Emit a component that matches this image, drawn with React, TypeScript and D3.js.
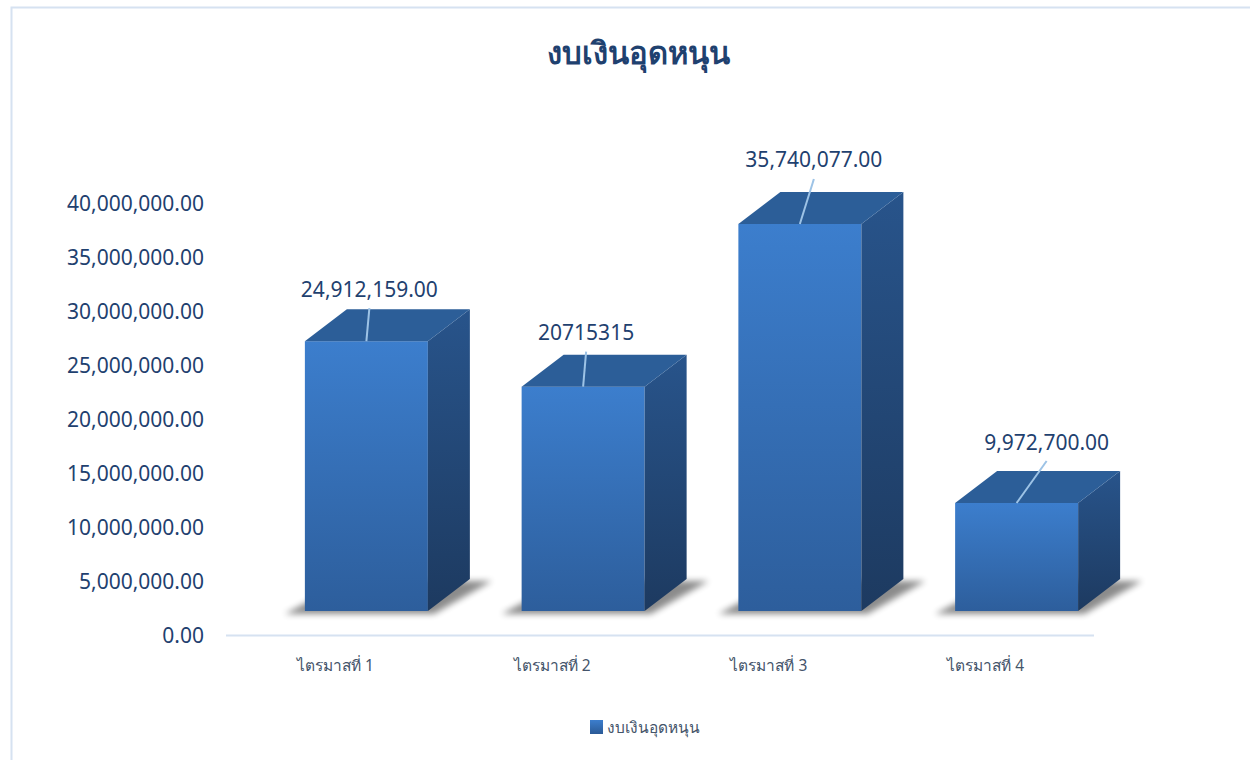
import React from "react";
import * as d3 from "d3";

const title = "งบเงินอุดหนุน";
const seriesName = "งบเงินอุดหนุน";
const categories = ["ไตรมาสที่ 1", "ไตรมาสที่ 2", "ไตรมาสที่ 3", "ไตรมาสที่ 4"];
const values = [24912159, 20715315, 35740077, 9972700];
const labelFormats = ["fixed2", "raw", "fixed2", "fixed2"];
const yTicks = [0, 5000000, 10000000, 15000000, 20000000, 25000000, 30000000, 35000000, 40000000];

// layout (not data)
const W = 1250;
const H = 760;
const barW = 123;
const depthX = 42;
const depthY = -32;
const base = 611;
const labelShift = [
  [3, -20],
  [3, -22],
  [14, -32],
  [30, -29],
];

const fmt2 = d3.format(",.2f");

export default function App() {
  const x = d3.scalePoint<string>().domain(categories).range([258, 1125]).padding(0.5);
  const yBar = d3.scaleLinear().domain([0, 40000000]).range([base, base - 433.2]);
  const yAxis = d3.scaleLinear().domain([0, 40000000]).range([635, 203]);

  const textColor = "#1f416f";

  return (
    <svg
      width={W}
      height={H}
      style={{ position: "absolute", left: 0, top: 0, background: "#fff" }}
      xmlns="http://www.w3.org/2000/svg"
    >
      <defs>
        <linearGradient id="front" x1="0" y1="0" x2="0" y2="1">
          <stop offset="0" stopColor="#3c7ecd" />
          <stop offset="1" stopColor="#2d5e9c" />
        </linearGradient>
        <linearGradient id="side" x1="0" y1="0" x2="0" y2="1">
          <stop offset="0" stopColor="#28548b" />
          <stop offset="1" stopColor="#1d3a60" />
        </linearGradient>
        <linearGradient id="legendG" x1="0" y1="0" x2="0" y2="1">
          <stop offset="0" stopColor="#3c7ecd" />
          <stop offset="1" stopColor="#2b5a96" />
        </linearGradient>
        <filter id="blur" x="-20%" y="-50%" width="140%" height="200%">
          <feGaussianBlur stdDeviation="3" />
        </filter>
      </defs>

      {/* chart area border */}
      <rect x={11.5} y={7.5} width={W + 20} height={H + 20} fill="none" stroke="#d6e2f1" strokeWidth={2} />

      {/* title */}
      <text
        x={638}
        y={64}
        textAnchor="middle"
        fontFamily="'Noto Sans', 'DejaVu Sans', sans-serif"
        fontWeight="bold"
        fontSize={31}
        fill={textColor}
      >
        {title}
      </text>

      {/* y axis labels */}
      {yTicks.map((t) => (
        <text
          key={t}
          x={204}
          y={yAxis(t)}
          dy="0.36em"
          textAnchor="end"
          fontFamily="'Noto Sans', sans-serif"
          fontSize={21}
          fill={textColor}
        >
          {fmt2(t)}
        </text>
      ))}

      {/* category axis line */}
      <line x1={226} x2={1094} y1={635.5} y2={635.5} stroke="#d6e2f1" strokeWidth={2} />

      {/* bars */}
      {categories.map((c, i) => {
        const cx = x(c)!;
        const x0 = cx - barW / 2;
        const x1 = cx + barW / 2;
        const yt = yBar(values[i]);
        const shadow = [
          [x0 - 20, base + 3],
          [x1 + 6, base + 3],
          [x1 + depthX + 22, base + depthY + 2],
          [x0 + depthX, base + depthY + 2],
        ];
        const top = [
          [x0, yt],
          [x1, yt],
          [x1 + depthX, yt + depthY],
          [x0 + depthX, yt + depthY],
        ];
        const side = [
          [x1, yt],
          [x1 + depthX, yt + depthY],
          [x1 + depthX, base + depthY],
          [x1, base],
        ];
        const pts = (p: number[][]) => p.map((q) => q.join(",")).join(" ");
        const [ldx, ldy] = labelShift[i];
        const lx = cx + ldx;
        const ly = yt + depthY + ldy;
        const label = labelFormats[i] === "raw" ? String(values[i]) : fmt2(values[i]);
        return (
          <g key={c}>
            <polygon points={pts(shadow)} fill="#000" opacity={0.45} filter="url(#blur)" />
            <rect x={x0} y={yt} width={barW} height={base - yt} fill="url(#front)" />
            <polygon points={pts(side)} fill="url(#side)" />
            <polygon points={pts(top)} fill="#2c5e98" />
            <line x1={cx} y1={yt} x2={lx} y2={ly + 19} stroke="#9dc3e6" strokeWidth={2} />
            <text
              x={lx}
              y={ly}
              dy="0.36em"
              textAnchor="middle"
              fontFamily="'Noto Sans', sans-serif"
              fontSize={21}
              fill={textColor}
            >
              {label}
            </text>
            <text
              x={cx - 31}
              y={671}
              textAnchor="middle"
              fontFamily="'Noto Sans', 'DejaVu Sans', sans-serif"
              fontSize={15.5}
              fill="#44546a"
            >
              {c}
            </text>
          </g>
        );
      })}

      {/* legend */}
      <rect x={590} y={720} width={13} height={14} fill="url(#legendG)" />
      <text
        x={607}
        y={733}
        fontFamily="'Noto Sans', 'DejaVu Sans', sans-serif"
        fontSize={15.5}
        fill="#44546a"
      >
        {seriesName}
      </text>
    </svg>
  );
}
